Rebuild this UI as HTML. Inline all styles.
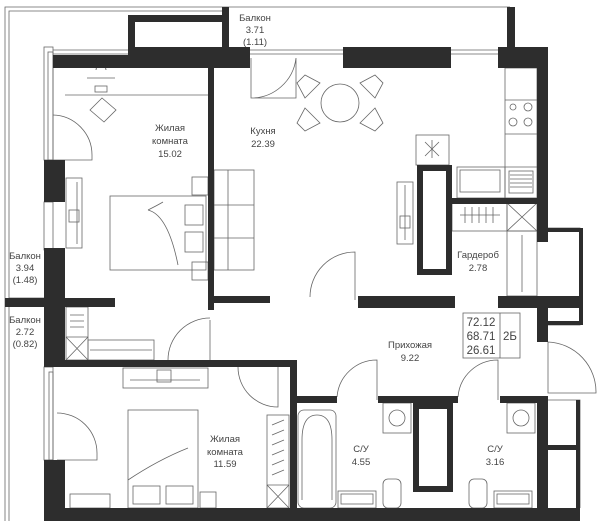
<!DOCTYPE html>
<html><head><meta charset="utf-8"><style>
html,body{margin:0;padding:0;background:#fff;}
svg{display:block;}
text{font-family:"Liberation Sans",sans-serif;fill:#444;text-anchor:middle;}
</style></head><body>
<svg width="600" height="521" viewBox="0 0 600 521" xmlns="http://www.w3.org/2000/svg">
<g fill="none" stroke="#666" stroke-width="0.8">
<path d="M5 521 V7 H510"/><path d="M9 521 V11 H222"/>
<path d="M9 298 H44 M9 306 H44"/>
<rect x="44" y="47" width="9" height="113"/><rect x="48" y="52" width="5" height="108"/>
<rect x="44" y="202" width="9" height="48"/>
<rect x="44" y="367" width="9" height="93"/><rect x="49" y="372" width="4" height="88"/>
<path d="M53 50 H128 M53 54 H128"/>
<path d="M250 50 H343 M250 54 H343 M451 50 H498 M451 54 H498"/>
<path d="M53 115 A40 40 0 0 1 92 155 V160 H53"/>
<path d="M251 58 V98 H296 V58 A45 45 0 0 1 251 98"/>
<path d="M310 297 A45 45 0 0 1 355 252 V300"/>
<path d="M210 320 V360 M168 360 A42 42 0 0 1 210 318"/>
<path d="M238 367 A40 40 0 0 0 278 407 V367"/>
<path d="M57 413 A40 40 0 0 1 97 453 V460 H57"/>
<path d="M337 397 A40 40 0 0 1 377 360 V400"/>
<path d="M458 397 A40 40 0 0 1 498 360 V400"/>
<path d="M548 342 V393 H596 A50 50 0 0 0 548 342"/>
<circle cx="340" cy="103" r="19"/>
<path d="M320 83 l-15 -8 l-8 8 l8 15 z M360 83 l15 -8 l8 8 l-8 15 z M320 123 l-15 8 l-8 -8 l8 -15 z M360 123 l15 8 l8 -8 l-8 -15 z"/>
<rect x="505" y="68" width="32" height="130"/>
<path d="M505 100 H537 M505 134 H537 M505 167 H537"/>
<circle cx="513" cy="107" r="3"/><circle cx="528" cy="107" r="4"/><circle cx="513" cy="122" r="4"/><circle cx="528" cy="122" r="4"/>
<rect x="457" y="167" width="48" height="31"/><rect x="460" y="170" width="40" height="22"/>
<rect x="509" y="171" width="24" height="22"/>
<path d="M510 175 H532 M510 179 H532 M510 183 H532 M510 187 H532"/>
<rect x="416" y="135" width="33" height="30"/>
<path d="M425 142 l14 14 M439 142 l-14 14 M432 140 v18"/>
<rect x="214" y="170" width="40" height="100"/><path d="M228 170 V270 M214 205 H254 M214 238 H254"/>
<rect x="397" y="182" width="16" height="62"/><path d="M405 185 V240"/><rect x="400" y="216" width="10" height="12"/>
<path d="M65 95 H208"/>
<path d="M87 78 H115 M96 70 a5 5 0 0 1 10 0"/><rect x="95" y="86" width="12" height="6"/>
<path d="M90 110 l12 -12 l14 12 l-12 12 z"/>
<rect x="66" y="178" width="16" height="70"/><path d="M77 182 V244"/><rect x="69" y="210" width="10" height="12"/>
<rect x="110" y="196" width="96" height="74"/><rect x="185" y="205" width="18" height="20"/><rect x="185" y="232" width="18" height="20"/>
<path d="M148 210 q20 5 30 55 M148 210 q10 -5 15 -8"/>
<rect x="192" y="177" width="16" height="18"/><rect x="192" y="262" width="16" height="18"/>
<rect x="66" y="307" width="22" height="53"/><path d="M66 337 H88 M66 337 L88 360 M88 337 L66 360"/>
<rect x="88" y="340" width="66" height="20"/><path d="M90 350 H152"/>
<path d="M70 315 H84 M70 321 H84 M70 327 H84"/>
<rect x="123" y="368" width="85" height="20"/><path d="M130 380 H200"/><rect x="157" y="370" width="14" height="12"/>
<rect x="128" y="410" width="70" height="98"/><rect x="133" y="486" width="27" height="18"/><rect x="166" y="486" width="27" height="18"/>
<path d="M128 480 q30 -20 60 -32"/>
<rect x="267" y="415" width="22" height="93"/><path d="M267 485 L289 508 M289 485 L267 508 M267 485 H289"/>
<path d="M272 425 l12 -5 M272 435 l12 -5 M272 445 l12 -5 M272 455 l12 -5 M272 465 l12 -5 M272 475 l12 -5"/>
<rect x="70" y="494" width="40" height="14"/><rect x="200" y="492" width="16" height="16"/>
<rect x="452" y="203" width="55" height="28"/><rect x="507" y="203" width="30" height="28"/>
<path d="M507 203 L537 231 M537 203 L507 231"/>
<rect x="507" y="231" width="30" height="65"/><path d="M522 235 V292"/>
<path d="M460 215 H500 M465 207 v16 M472 207 v16 M479 207 v16 M486 207 v16 M493 207 v16"/>
<rect x="298" y="410" width="38" height="98" rx="6"/><path d="M302 500 V440 q0 -25 15 -25 q15 0 15 25 V500"/>
<rect x="383" y="403" width="28" height="30"/><circle cx="397" cy="418" r="8"/>
<rect x="338" y="491" width="38" height="17"/><rect x="341" y="494" width="32" height="10"/>
<rect x="383" y="479" width="18" height="29" rx="5"/>
<rect x="507" y="403" width="28" height="30"/><circle cx="521" cy="418" r="8"/>
<rect x="494" y="491" width="38" height="17"/><rect x="497" y="494" width="32" height="10"/>
<rect x="469" y="479" width="18" height="29" rx="5"/>
<path d="M548 228 H580 V325 H548"/><path d="M548 400 H580 V508"/>
<rect x="463" y="313" width="57" height="45"/><path d="M500 313 V358"/>
</g>
<g fill="#2d2d2d">
<rect x="128" y="15" width="100" height="7"/><rect x="128" y="15" width="7" height="40"/><rect x="222" y="7" width="7" height="48"/>
<rect x="53" y="55" width="197" height="13"/>
<rect x="128" y="47" width="122" height="21"/>
<rect x="343" y="47" width="108" height="21"/>
<rect x="498" y="47" width="50" height="21"/><rect x="507" y="7" width="8" height="45"/>
<rect x="537" y="47" width="11" height="195"/>
<rect x="548" y="228" width="35" height="4"/><rect x="579" y="228" width="4" height="97"/><rect x="548" y="321" width="35" height="4"/>
<rect x="44" y="160" width="21" height="42"/>
<rect x="44" y="248" width="21" height="119"/>
<rect x="5" y="298" width="110" height="9"/>
<rect x="44" y="460" width="21" height="61"/>
<rect x="44" y="508" width="536" height="13"/>
<rect x="208" y="68" width="6" height="242"/>
<rect x="208" y="296" width="62" height="7"/>
<rect x="358" y="296" width="97" height="12"/>
<rect x="498" y="296" width="82" height="12"/>
<rect x="537" y="296" width="11" height="46"/>
<rect x="44" y="360" width="246" height="7"/>
<rect x="290" y="360" width="7" height="148"/>
<rect x="297" y="396" width="40" height="7"/>
<rect x="378" y="396" width="80" height="7"/>
<rect x="500" y="396" width="48" height="7"/>
<rect x="537" y="396" width="11" height="112"/>
<rect x="548" y="445" width="32" height="5"/><rect x="576" y="400" width="4" height="108"/>
<rect x="452" y="198" width="96" height="6"/>
</g>
<g fill="none" stroke="#2d2d2d" stroke-width="6">
<rect x="420" y="168" width="29" height="104"/>
<rect x="416" y="406" width="34" height="83"/>
</g>
<g font-size="9.5">
<text x="255" y="21">Балкон</text><text x="255" y="33">3.71</text><text x="255" y="45">(1.11)</text>
<text x="170" y="131">Жилая</text><text x="170" y="144">комната</text><text x="170" y="157">15.02</text>
<text x="263" y="134">Кухня</text><text x="263" y="147">22.39</text>
<text x="478" y="258">Гардероб</text><text x="478" y="271">2.78</text>
<text x="25" y="259">Балкон</text><text x="25" y="271">3.94</text><text x="25" y="283">(1.48)</text>
<text x="25" y="323">Балкон</text><text x="25" y="335">2.72</text><text x="25" y="347">(0.82)</text>
<text x="410" y="348">Прихожая</text><text x="410" y="361">9.22</text>
<text x="225" y="442">Жилая</text><text x="225" y="455">комната</text><text x="225" y="467">11.59</text>
<text x="361" y="452">С/У</text><text x="361" y="465">4.55</text>
<text x="495" y="452">С/У</text><text x="495" y="465">3.16</text>
</g>
<g font-size="11.5">
<text x="481" y="326">72.12</text><text x="481" y="340">68.71</text><text x="481" y="354">26.61</text>
<text x="510" y="340">2Б</text>
</g>
</svg>
</body></html>
